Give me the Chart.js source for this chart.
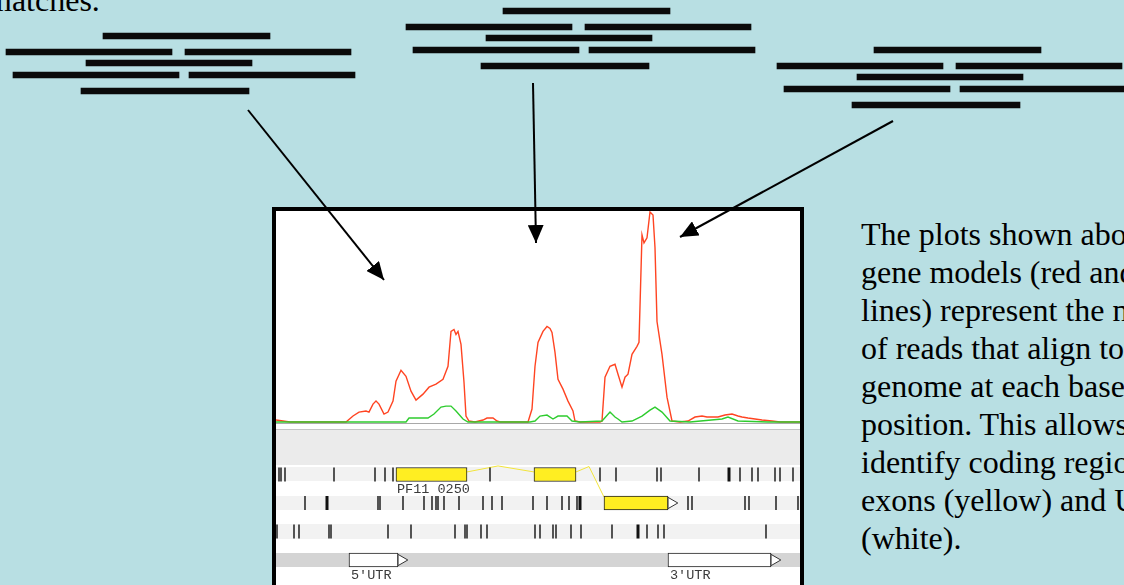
<!DOCTYPE html>
<html>
<head>
<meta charset="utf-8">
<script src="https://cdn.jsdelivr.net/npm/chart.js@4.4.1/dist/chart.umd.min.js"></script>
<style>
  html, body { margin: 0; padding: 0; }
  body {
    width: 1124px; height: 585px; position: relative; overflow: hidden;
    background: #b8dfe3;
    font-family: "Liberation Serif", "Times New Roman", serif;
  }
  .abs { position: absolute; }
  #topText { left: -13px; top: -19px; font-size: 32px; line-height: 38px; white-space: nowrap; color: #000; }
  #caption { left: 861px; top: 215px; font-size: 32px; line-height: 38px; white-space: nowrap; color: #000; }
  #box { left: 272px; top: 207px; width: 532px; height: 400px; border: 4px solid #000; box-sizing: border-box; background: #fff; }
  .strip { left: 276px; width: 524px; }
</style>
</head>
<body>
<div id="topText" class="abs">matches.</div>

<canvas id="reads1" class="abs" width="360" height="70" style="left:0px;top:28px"></canvas>
<canvas id="reads2" class="abs" width="360" height="70" style="left:400px;top:3px"></canvas>
<canvas id="reads3" class="abs" width="360" height="70" style="left:771px;top:42px"></canvas>

<div id="box" class="abs"></div>
<!-- track backgrounds -->
<div class="abs strip" style="top:423px;height:1px;background:#a9a9a9"></div>
<div class="abs strip" style="top:429px;height:1px;background:#c4c4c4"></div>
<div class="abs strip" style="top:430px;height:35px;background:#ebebeb"></div>
<div class="abs strip" style="top:467px;height:14px;background:#f2f2f2"></div>
<div class="abs strip" style="top:496px;height:14px;background:#f2f2f2"></div>
<div class="abs strip" style="top:524px;height:15px;background:#f2f2f2"></div>
<div class="abs strip" style="top:553px;height:14px;background:#d4d4d4"></div>

<canvas id="coverage" class="abs" width="524" height="213" style="left:276px;top:211px"></canvas>
<canvas id="tracks" class="abs" width="524" height="161" style="left:276px;top:424px"></canvas>

<div id="caption" class="abs">
The plots shown above the<br>
gene models (red and green<br>
lines) represent the number<br>
of reads that align to the<br>
genome at each base<br>
position. This allows us to<br>
identify coding regions,<br>
exons (yellow) and UTRs<br>
(white).
</div>

<svg class="abs" style="left:0;top:0" width="1124" height="585">
  <defs>
    <marker id="ah" markerUnits="userSpaceOnUse" markerWidth="18" markerHeight="16" refX="18" refY="8" orient="auto">
      <path d="M0,0 L18,8 L0,16 z" fill="#000"/>
    </marker>
  </defs>
  <line x1="248" y1="110" x2="384" y2="280" stroke="#000" stroke-width="2" marker-end="url(#ah)"/>
  <line x1="533" y1="83" x2="536" y2="243" stroke="#000" stroke-width="2" marker-end="url(#ah)"/>
  <line x1="893" y1="121" x2="680" y2="237" stroke="#000" stroke-width="2" marker-end="url(#ah)"/>
</svg>

<script>
// Short reads (same pattern in each of the three stacks)
const readStart = [103, 6, 185, 86, 13, 189, 81];
const readEnd   = [270, 172, 351, 252, 179, 355, 249];
const readLane  = [0, 1, 1, 1.69, 2.44, 2.44, 3.44];

// Read coverage, position along the locus vs depth
const redPos   = [0, 14, 70, 77, 83, 90, 93, 97, 100, 103, 108, 112, 117, 120, 125, 130, 135, 140, 147, 153,
                  160, 167, 172, 175, 178, 180, 182, 185, 188, 190, 193, 199, 207, 211, 217, 221, 224, 252, 256, 259,
                  262, 267, 271, 274, 276, 279, 282, 287, 292, 297, 299, 304, 324, 326, 329, 334, 339, 342, 346, 349,
                  352, 356, 361, 363, 366, 368, 371, 374, 377, 379, 381, 386, 391, 396, 404, 412, 419, 426, 431, 436,
                  442, 449, 456, 462, 466, 472, 479, 486, 496, 504, 524];
const redDepth = [2, 0, 0, 6, 10, 11, 10, 18, 21, 18, 8, 10, 21, 41, 52, 46, 31, 22, 28, 35,
                  38, 43, 56, 91, 93, 88, 91, 78, 40, 6, 1, 0, 2, 4, 4, 1, 0, 0, 13, 56,
                  80, 91, 96, 94, 90, 70, 43, 33, 21, 11, 1, 0, 0, 1, 45, 56, 58, 48, 35, 45,
                  48, 68, 76, 80, 188, 180, 185, 211, 208, 175, 101, 68, 25, 1, 0, 1, 5, 6, 5, 5,
                  5, 7, 8, 6, 5, 4, 3, 2, 1, 0, 0];
const greenPos   = [0, 130, 133, 152, 158, 165, 170, 175, 180, 187, 192, 254, 259, 264, 271, 277, 282, 291, 296, 304,
                    326, 334, 339, 342, 346, 356, 366, 374, 379, 386, 394, 414, 446, 452, 462, 492, 524];
const greenDepth = [0, 0, 4, 4, 8, 15, 16, 16, 11, 3, 0, 0, 1, 6, 7, 3, 6, 6, 1, 0,
                    1, 10, 5, 3, 0, 1, 6, 12, 15, 10, 1, 0, 3, 5, 1, 0, 0];

// Gene model: exons, UTRs, introns
const exonStart = [120, 258, 328];
const exonEnd   = [191, 300, 392];
const exonLane  = [1, 1, 2];
const utrStart = [73, 392];
const utrEnd   = [122, 495];
const utrLane  = [4, 4];
const arrowPos  = [395.3, 125.3, 498.3];
const arrowLane = [2, 4, 4];
const intron1Pos = [191, 222, 258];
const intron1Lane = [0.91, 0.70, 0.91];
const intron2Pos = [300, 313, 328];
const intron2Lane = [0.91, 0.72, 1.79];

// Feature tick marks in the three annotation rows
const row1Marks = [3, 5, 9, 58, 99, 109, 117, 214, 324, 340, 381, 385, 423, 464, 476, 482, 499, 504, 517];
const row2Marks = [29, 102, 104, 127, 148, 156, 160, 162, 168, 183, 207, 216, 226, 257, 271, 286, 293, 301,
                   412, 416, 469, 473, 500, 522];
const row3Marks = [1, 18, 23, 53, 55, 112, 135, 179, 189, 191, 205, 211, 259, 264, 277, 280, 295, 305, 336,
                   371, 382, 388, 490];
const thickPos  = [453, 51, 304, 362];
const thickLane = [1, 2, 2, 3];

const labelText = ['PF11 0250', "5'UTR", "3'UTR"];
const labelPos  = [121, 75, 394];
const labelLane = [1.51, 4.53, 4.53];

const quiet = {
  responsive: false, animation: false, events: [],
  layout: { padding: 0, autoPadding: false },
  plugins: { legend: { display: false }, tooltip: { enabled: false } }
};

// Read stacks
['reads1', 'reads2', 'reads3'].forEach(id => {
  new Chart(document.getElementById(id), {
    type: 'bar',
    data: {
      datasets: [{
        data: readStart.map((s, i) => ({ x: [s, readEnd[i]], y: readLane[i] })),
        backgroundColor: '#0a0a0a',
        barThickness: 6,
        borderWidth: 0
      }]
    },
    options: {
      ...quiet,
      indexAxis: 'y',
      scales: {
        x: { type: 'linear', min: 0, max: 360, display: false },
        y: { type: 'linear', min: -0.5, max: 3.875, reverse: true, offset: false, display: false }
      }
    }
  });
});

// Coverage plot
const pts = (xs, ys) => xs.map((x, i) => ({ x: x, y: ys[i] }));
new Chart(document.getElementById('coverage'), {
  type: 'scatter',
  data: {
    datasets: [
      { data: pts(greenPos, greenDepth), showLine: true, pointRadius: 0, borderColor: '#2ecc2e', borderWidth: 1.4 },
      { data: pts(redPos, redDepth), showLine: true, pointRadius: 0, borderColor: '#ff4422', borderWidth: 1.4 }
    ]
  },
  options: {
    ...quiet,
    scales: {
      x: { type: 'linear', min: 0, max: 524, display: false },
      y: { type: 'linear', min: -2, max: 212, display: false }
    }
  }
});

// Gene model track
const trackLabels = {
  id: 'trackLabels',
  afterDatasetsDraw(chart) {
    const { ctx, scales: { x, y } } = chart;
    ctx.save();
    ctx.font = '13.5px "Liberation Mono", monospace';
    ctx.fillStyle = '#3a3a3a';
    ctx.textBaseline = 'middle';
    labelText.forEach((t, i) => ctx.fillText(t, x.getPixelForValue(labelPos[i]), y.getPixelForValue(labelLane[i])));
    ctx.restore();
  }
};

const markSet = (xs, lane) => xs.map(x => ({ x: x, y: lane }));
const tickStyle = { showLine: false, pointStyle: 'line', pointRotation: 90, pointRadius: 7, pointBorderColor: '#111', order: 2 };

new Chart(document.getElementById('tracks'), {
  type: 'scatter',
  data: {
    datasets: [
      { ...tickStyle, data: markSet(row1Marks, 1), pointBorderWidth: 1.4 },
      { ...tickStyle, data: markSet(row2Marks, 2), pointBorderWidth: 1.4 },
      { ...tickStyle, data: markSet(row3Marks, 3), pointBorderWidth: 1.4 },
      { ...tickStyle, data: pts(thickPos, thickLane), pointBorderWidth: 3 },
      { type: 'bar', indexAxis: 'y', grouped: false, order: 1,
        data: exonStart.map((s, i) => ({ x: [s, exonEnd[i]], y: exonLane[i] })),
        backgroundColor: '#ffee22', borderColor: '#222', borderWidth: 1, borderSkipped: false, barThickness: 14 },
      { type: 'bar', indexAxis: 'y', grouped: false, order: 1,
        data: utrStart.map((s, i) => ({ x: [s, utrEnd[i]], y: utrLane[i] })),
        backgroundColor: '#ffffff', borderColor: '#222', borderWidth: 1, borderSkipped: false, barThickness: 14 },
      { data: pts(arrowPos, arrowLane), showLine: false, order: 0, pointStyle: 'triangle', pointRotation: 90,
        pointRadius: 6.5, pointBackgroundColor: '#fff', pointBorderColor: '#333', pointBorderWidth: 1 },
      { data: pts(intron1Pos, intron1Lane), showLine: true, pointRadius: 0, borderColor: '#f2e43a', borderWidth: 1, order: 3 },
      { data: pts(intron2Pos, intron2Lane), showLine: true, pointRadius: 0, borderColor: '#f2e43a', borderWidth: 1, order: 3 }
    ]
  },
  options: {
    ...quiet,
    scales: {
      x: { type: 'linear', min: 0, max: 524, offset: false, display: false },
      y: { type: 'linear', min: -0.772, max: 4.877, reverse: true, offset: false, display: false }
    }
  },
  plugins: [trackLabels]
});
</script>
</body>
</html>
